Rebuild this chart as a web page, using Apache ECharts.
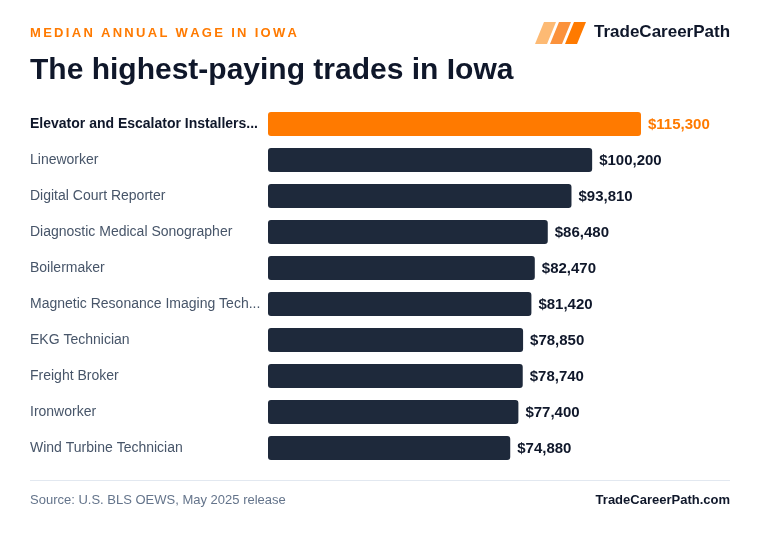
<!DOCTYPE html>
<html>
<head>
<meta charset="utf-8">
<script src="https://cdn.jsdelivr.net/npm/echarts@6/dist/echarts.min.js"></script>
<style>
  html, body { margin: 0; padding: 0; background: #fff; }
  #chart { width: 760px; height: 536px; }
</style>
</head>
<body>
<div id="chart"></div>
<script>
const trades = [
  'Elevator and Escalator Installers...',
  'Lineworker',
  'Digital Court Reporter',
  'Diagnostic Medical Sonographer',
  'Boilermaker',
  'Magnetic Resonance Imaging Tech...',
  'EKG Technician',
  'Freight Broker',
  'Ironworker',
  'Wind Turbine Technician'
]
const wages = [115300, 100200, 93810, 86480, 82470, 81420, 78850, 78740, 77400, 74880]

const FONT = '"Liberation Sans", Arial, sans-serif'
const ORANGE = '#ff7a00'
const DARK = '#1e293b'

const chart = echarts.init(document.getElementById('chart'))

const fmt = v => '$' + v.toLocaleString('en-US')

// spaced-out kicker text via rich tokens (letterSpacing is not reliable here)
const kicker = 'MEDIAN ANNUAL WAGE IN IOWA'
const kickerRich = kicker.split('').map(c => '{l|' + c + '}').join('')

chart.setOption({
  backgroundColor: '#ffffff',
  textStyle: { fontFamily: FONT },
  grid: { left: 268, top: 106, width: 373, height: 360 },
  xAxis: {
    type: 'value',
    min: 0,
    max: wages[0],
    show: false
  },
  yAxis: {
    type: 'category',
    data: trades,
    inverse: true,
    axisLine: { show: false },
    axisTick: { show: false },
    axisLabel: {
      align: 'left',
      margin: 238,
      fontFamily: FONT,
      fontSize: 14,
      color: '#475569',
      formatter: (v, i) => i === 0 ? '{top|' + v + '}' : v,
      rich: {
        top: { fontFamily: FONT, fontSize: 14, fontWeight: 'bold', color: '#0f172a' }
      }
    }
  },
  series: [{
    type: 'bar',
    barWidth: 24,
    data: wages.map((v, i) => ({
      value: v,
      itemStyle: { color: i === 0 ? ORANGE : DARK, borderRadius: 3 },
      label: { color: i === 0 ? ORANGE : '#0f172a' }
    })),
    label: {
      show: true,
      position: 'right',
      distance: 7,
      offset: [0, 1],
      fontFamily: FONT,
      fontSize: 15,
      fontWeight: 'bold',
      formatter: p => fmt(p.value)
    },
    silent: true
  }],
  graphic: [
    {
      type: 'text', left: 30, top: 27,
      style: {
        text: kickerRich,
        rich: {
          l: { fontFamily: FONT, fontSize: 13, fontWeight: 'bold', fill: ORANGE, padding: [0, 2.3, 0, 0] }
        }
      }
    },
    {
      type: 'text', left: 30, top: 56,
      style: { text: 'The highest-paying trades in Iowa', fontFamily: FONT, fontSize: 30, fontWeight: 'bold', fill: '#0f172a' }
    },
    // logo
    { type: 'polygon', shape: { points: [[544, 22], [556, 22], [547, 44], [535, 44]] }, style: { fill: '#fdba74' } },
    { type: 'polygon', shape: { points: [[559, 22], [571, 22], [562, 44], [550, 44]] }, style: { fill: '#fb923c' } },
    { type: 'polygon', shape: { points: [[574, 22], [586, 22], [577, 44], [565, 44]] }, style: { fill: ORANGE } },
    {
      type: 'text', left: 594, top: 24,
      style: { text: 'TradeCareerPath', fontFamily: FONT, fontSize: 17, fontWeight: 'bold', fill: '#0f172a' }
    },
    // footer
    { type: 'line', shape: { x1: 30, y1: 480.5, x2: 730, y2: 480.5 }, style: { stroke: '#e2e8f0', lineWidth: 1 } },
    {
      type: 'text', left: 30, top: 494,
      style: { text: 'Source: U.S. BLS OEWS, May 2025 release', fontFamily: FONT, fontSize: 13, fill: '#64748b' }
    },
    {
      type: 'text', right: 30, top: 494,
      style: { text: 'TradeCareerPath.com', fontFamily: FONT, fontSize: 13, fontWeight: 'bold', fill: '#0f172a' }
    }
  ]
})

window.addEventListener('resize', () => chart.resize())
</script>
</body>
</html>
